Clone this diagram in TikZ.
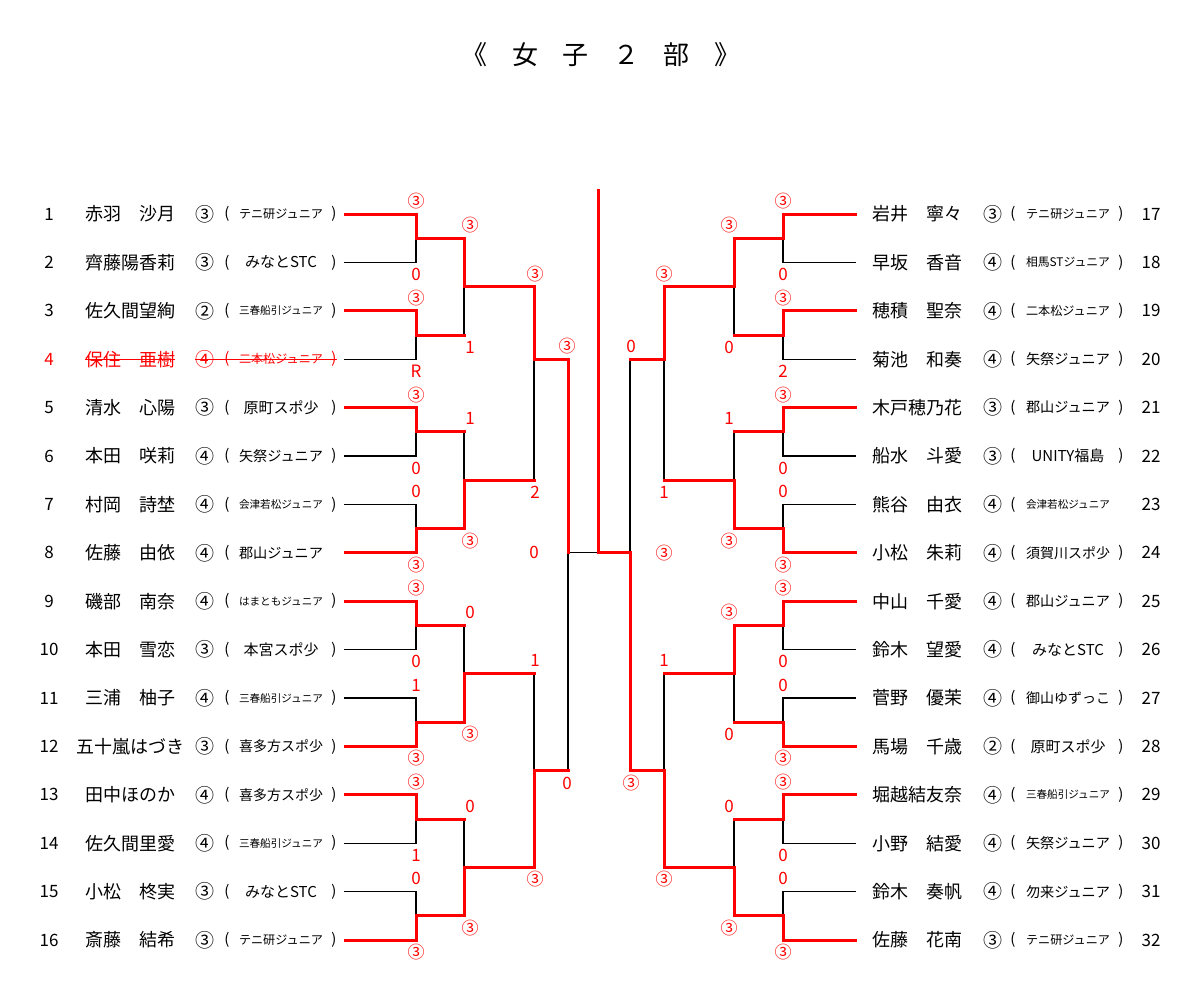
\documentclass[tikz,border=0pt]{standalone}
\usepackage{fontspec}
\usepackage{graphicx}
\setmainfont{Noto Sans CJK JP}
\definecolor{rd}{RGB}{255,0,0}
\newsavebox\tmbox
\newcommand\teamtxt[1]{\sbox\tmbox{\fontsize{15pt}{15pt}\selectfont #1}\ifdim\wd\tmbox>84pt\resizebox{84pt}{!}{\usebox\tmbox}\else\usebox\tmbox\fi}
\newcommand\fs[1]{\fontsize{#1pt}{#1pt}\selectfont}
\begin{document}
\begin{tikzpicture}[x=1pt,y=-1pt,
  wl/.style={line width=3pt,draw=rd,line join=miter,line cap=rect},
  ll/.style={line width=1.3pt,draw=black,line join=miter,line cap=rect},
  sc/.style={text=rd,font=\fs{17},inner sep=0pt},
  numt/.style={font=\fs{17},inner sep=0pt},
  namet/.style={font=\fs{18},inner sep=0pt},
  grt/.style={font=\fs{19},inner sep=0pt},
  part/.style={font=\fs{15},inner sep=0pt},
  teamt/.style={inner sep=0pt},
  titt/.style={font=\fs{26},inner sep=0pt},
  strk/.style={draw=rd,line width=1.3pt}]
\fill[white] (0,0) rectangle (1200,997);
\useasboundingbox (0,0) rectangle (1200,997);
% title
\node[titt] (t1) at (474,55) {《};
\node[titt] (t2) at (525,55) {女};
\node[titt] (t3) at (575,55) {子};
\node[titt] (t4) at (626,55) {２};
\node[titt] (t5) at (676,55) {部};
\node[titt] (t6) at (727,55) {》};
% left players
\foreach \i/\nm/\gr/\tm/\cp/\cl in {
1/赤羽　沙月/③/テニ研ジュニア/1/black,
2/齊藤陽香莉/③/みなとSTC/1/black,
3/佐久間望絢/②/三春船引ジュニア/1/black,
4/保住　亜樹/④/二本松ジュニア/1/rd,
5/清水　心陽/③/原町スポ少/1/black,
6/本田　咲莉/④/矢祭ジュニア/1/black,
7/村岡　詩埜/④/会津若松ジュニア/1/black,
8/佐藤　由依/④/郡山ジュニア/0/black,
9/磯部　南奈/④/はまともジュニア/1/black,
10/本田　雪恋/③/本宮スポ少/1/black,
11/三浦　柚子/④/三春船引ジュニア/1/black,
12/五十嵐はづき/③/喜多方スポ少/1/black,
13/田中ほのか/④/喜多方スポ少/1/black,
14/佐久間里愛/④/三春船引ジュニア/1/black,
15/小松　柊実/③/みなとSTC/1/black,
16/斎藤　結希/③/テニ研ジュニア/1/black}{
  \pgfmathsetmacro\yy{214+(\i-1)*48.4}
  \node[numt,text=\cl] (no\i) at (49,\yy) {\i};
  \node[namet,text=\cl] (nm\i) at (130,\yy) {\nm};
  \node[grt,text=\cl] (gr\i) at (205,\yy) {\gr};
  \node[part,text=\cl] (po\i) at (227,\yy) {(};
  \node[teamt,text=\cl] (tm\i) at (281,\yy) {\teamtxt{\tm}};
  \ifnum\cp=1 \node[part,text=\cl] (pc\i) at (334,\yy) {)};\fi
  \coordinate (Ls\i) at (345,\yy);
  \coordinate (Le\i) at (416,\yy);
}
\draw[strk] (nm4.west) -- (nm4.east);
\draw[strk] (gr4.west) -- (pc4.east);
% right players
\foreach \i/\nm/\gr/\tm/\cp in {
17/岩井　寧々/③/テニ研ジュニア/1,
18/早坂　香音/④/相馬STジュニア/1,
19/穂積　聖奈/④/二本松ジュニア/1,
20/菊池　和奏/④/矢祭ジュニア/1,
21/木戸穂乃花/③/郡山ジュニア/1,
22/船水　斗愛/③/UNITY福島/1,
23/熊谷　由衣/④/会津若松ジュニア/0,
24/小松　朱莉/④/須賀川スポ少/1,
25/中山　千愛/④/郡山ジュニア/1,
26/鈴木　望愛/④/みなとSTC/1,
27/菅野　優茉/④/御山ゆずっこ/1,
28/馬場　千歳/②/原町スポ少/1,
29/堀越結友奈/④/三春船引ジュニア/1,
30/小野　結愛/④/矢祭ジュニア/1,
31/鈴木　奏帆/④/勿来ジュニア/1,
32/佐藤　花南/③/テニ研ジュニア/1}{
  \pgfmathsetmacro\yy{214+(\i-17)*48.4}
  \node[namet] (nm\i) at (917,\yy) {\nm};
  \node[grt] (gr\i) at (993,\yy) {\gr};
  \node[part] (po\i) at (1013,\yy) {(};
  \node[teamt] (tm\i) at (1068,\yy) {\teamtxt{\tm}};
  \ifnum\cp=1 \node[part] (pc\i) at (1121,\yy) {)};\fi
  \node[numt] (no\i) at (1151,\yy) {\i};
  \coordinate (Rs\i) at (855,\yy);
  \coordinate (Re\i) at (783,\yy);
}
% bracket coordinates
\foreach \k in {1,...,8} {
  \pgfmathsetmacro\yy{214+(2*\k-1.5)*48.4}
  \coordinate (La\k) at (416,\yy);
  \coordinate (Lb\k) at (464,\yy);
  \coordinate (Ra\k) at (783,\yy);
  \coordinate (Rb\k) at (734,\yy);
}
\foreach \j in {1,...,4} {
  \pgfmathsetmacro\yy{214+(4*\j-2.5)*48.4}
  \coordinate (Lc\j) at (464,\yy);
  \coordinate (Ld\j) at (534,\yy);
  \coordinate (Rc\j) at (734,\yy);
  \coordinate (Rd\j) at (664,\yy);
}
\coordinate (Lf1) at (534,359.2);
\coordinate (Lf2) at (534,770.6);
\coordinate (Lg1) at (568,359.2);
\coordinate (Lg2) at (568,770.6);
\coordinate (Lh) at (568,552.8);
\coordinate (Rf1) at (664,359.2);
\coordinate (Rf2) at (664,770.6);
\coordinate (Rg1) at (630,359.2);
\coordinate (Rg2) at (630,770.6);
\coordinate (Rh) at (630,552.8);
\coordinate (C) at (598,552.8);
\coordinate (Ctop) at (598,190);
% losers (black)
\foreach \k/\l in {1/2,2/4,3/6,4/7,5/10,6/11,7/14,8/15}
  \draw[ll] (Ls\l) -- (Le\l) -- (La\k);
\foreach \k/\l in {1/18,2/20,3/22,4/23,5/26,6/27,7/30,8/31}
  \draw[ll] (Rs\l) -- (Re\l) -- (Ra\k);
\foreach \j/\l in {1/2,2/3,3/5,4/7}
  \draw[ll] (Lb\l) -- (Lc\j);
\foreach \j/\l in {1/2,2/3,3/6,4/7}
  \draw[ll] (Rb\l) -- (Rc\j);
\draw[ll] (Ld2) -- (Lf1);
\draw[ll] (Ld3) -- (Lf2);
\draw[ll] (Rd2) -- (Rf1);
\draw[ll] (Rd3) -- (Rf2);
\draw[ll] (Lg2) -- (Lh) -- (C);
\draw[ll] (Rg1) -- (Rh);
% winners (red)
\foreach \k/\w in {1/1,2/3,3/5,4/8,5/9,6/12,7/13,8/16}
  \draw[wl] (Ls\w) -- (Le\w) -- (La\k) -- (Lb\k);
\foreach \k/\w in {1/17,2/19,3/21,4/24,5/25,6/28,7/29,8/32}
  \draw[wl] (Rs\w) -- (Re\w) -- (Ra\k) -- (Rb\k);
\foreach \j/\w in {1/1,2/4,3/6,4/8}
  \draw[wl] (Lb\w) -- (Lc\j) -- (Ld\j);
\foreach \j/\w in {1/1,2/4,3/5,4/8}
  \draw[wl] (Rb\w) -- (Rc\j) -- (Rd\j);
\draw[wl] (Ld1) -- (Lf1) -- (Lg1);
\draw[wl] (Ld4) -- (Lf2) -- (Lg2);
\draw[wl] (Rd1) -- (Rf1) -- (Rg1);
\draw[wl] (Rd4) -- (Rf2) -- (Rg2);
\draw[wl] (Lg1) -- (Lh);
\draw[wl] (Rg2) -- (Rh) -- (C) -- (Ctop);
% scores
\foreach \x/\y/\t [count=\c] in {
416/201/③,416/274.4/0,416/297.8/③,416/371.2/R,416/394.6/③,416/468/0,416/491.4/0,416/564.8/③,
416/588.2/③,416/661.6/0,416/685/1,416/758.4/③,416/781.8/③,416/855.2/1,416/878.6/0,416/952/③,
470/225.2/③,470/347/1,470/418.8/1,470/540.6/③,470/612.4/0,470/734.2/③,470/806/0,470/927.8/③,
535/273.6/③,535/492.2/2,535/660.8/1,535/879.4/③,
567/346.2/③,567/783/0,534/552.8/0,
783/201/③,783/274.4/0,783/297.8/③,783/371.2/2,783/394.6/③,783/468/0,783/491.4/0,783/564.8/③,
783/588.2/③,783/661.6/0,783/685/0,783/758.4/③,783/781.8/③,783/855.2/0,783/878.6/0,783/952/③,
729/225.2/③,729/347/0,729/418.8/1,729/540.6/③,729/612.4/③,729/734.2/0,729/806/0,729/927.8/③,
664/273.6/③,664/492.2/1,664/660.8/1,664/879.4/③,
631/346.2/0,631/783/③,664/552.8/③}
  \node[sc] (sc\c) at (\x,\y) {\t};
\end{tikzpicture}
\end{document}
